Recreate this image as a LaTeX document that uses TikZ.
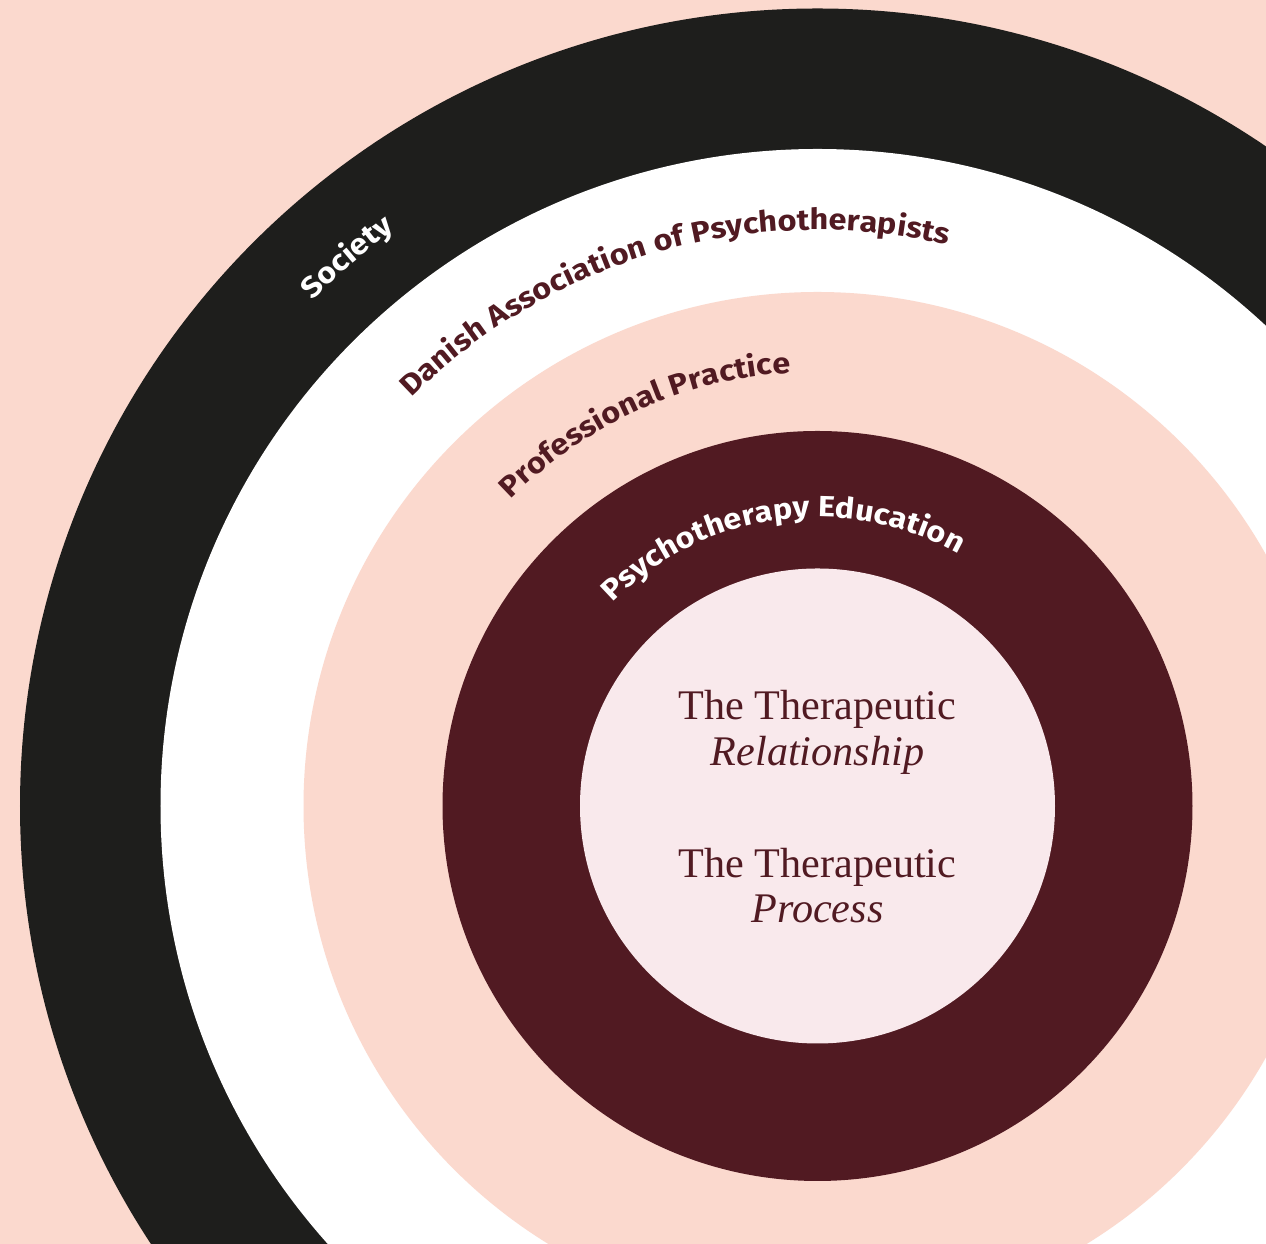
\documentclass[tikz,border=0pt]{standalone}
\usepackage{fontspec}
\setmainfont{Liberation Serif}
\newfontfamily\ringfont{Fira Sans}[FakeStretch=1.11]
\usepackage{xcolor}
\usetikzlibrary{decorations.text}
\usetikzlibrary{positioning}

\definecolor{blush}{HTML}{FBD9CE}
\definecolor{ink}{HTML}{1E1E1C}
\definecolor{wine}{HTML}{511A22}
\definecolor{petal}{HTML}{F9E9EC}

\newcommand{\ringlabel}{\fontsize{8.3}{10}\selectfont\ringfont\bfseries}

\begin{document}
\begin{tikzpicture}
 \tikzstyle{ringtext}=[decorate, decoration={text along path, text align=center}]
 \tikzstyle{core}=[inner sep=0pt, anchor=base, text=wine, font=\fontsize{12}{14}\selectfont]
 \useasboundingbox (0,0) rectangle (12.66,12.44);
 \clip (0,0) rectangle (12.66,12.44);
 \fill[blush] (0,0) rectangle (12.66,12.44);
 \begin{scope}[shift={(8.175,4.38)}]
  % rings, outside in
  \fill[ink]   (0,0) circle (7.975);
  \fill[white] (0,0) circle (6.57);
  \fill[blush] (0,0) circle (5.14);
  \fill[wine]  (0,0) circle (3.75);
  \fill[petal] (0,0) circle (2.375);
  % ring labels
  \path[ringtext, decoration={text color=white, text={|\ringlabel|Society}}]
   (160.6:7.15) arc[start angle=160.6, end angle=100.6, radius=7.15];
  \path[ringtext, decoration={text color=wine, text={|\ringlabel|Danish Association of Psychotherapists}}]
   (165.9:5.76) arc[start angle=165.9, end angle=45.9, radius=5.76];
  \path[ringtext, decoration={text color=wine, text={|\ringlabel|Professional Practice}}]
   (174.3:4.34) arc[start angle=174.3, end angle=54.3, radius=4.34];
  \path[ringtext, decoration={text color=white, text={|\ringlabel|Psychotherapy Education}}]
   (158:2.89) arc[start angle=158, end angle=38, radius=2.89];
 \end{scope}
 % centre texts
 \node[core] (rel1) at (8.175,5.24) {The Therapeutic};
 \node[core] (rel2) at (8.175,4.78) {\itshape Relationship};
 \node[core] (proc1) at (8.175,3.66) {The Therapeutic};
 \node[core] (proc2) at (8.175,3.213) {\itshape Process};
\end{tikzpicture}
\end{document}
